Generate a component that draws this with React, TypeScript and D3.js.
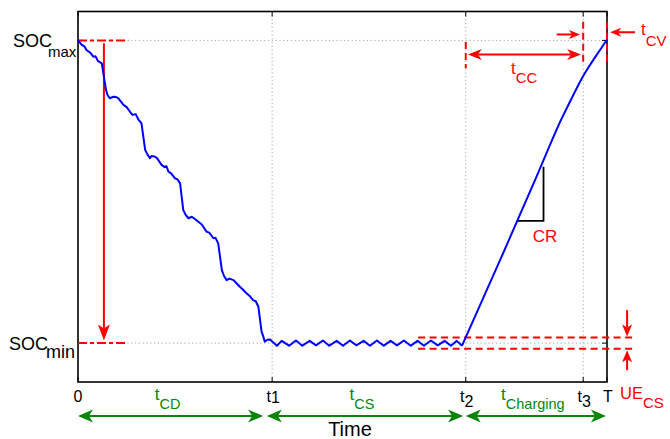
import React, { useEffect, useRef } from "react";
import * as d3 from "d3";

// time axis (0..T = 100) and SOC (%)
const tickTimes = [0, 36.7, 73.3, 95.5, 100];
const tickLabels = ["0", "t1", "t2", "t3", "T"];
const socLevels = [92.2, 10.5];
const socNames = ["max", "min"];

// blue SOC trace: charge depleting
const dischargeT = [0, 0.7, 1.2, 1.6, 2.3, 2.9, 3.3, 3.8, 4.5, 5.3, 5.6, 6.0, 6.7, 7.2, 7.6, 8.6, 9.2, 9.8, 10.3, 10.9, 11.4, 12.0, 12.7, 13.1, 13.6, 13.9, 14.4, 14.9, 15.8, 16.4, 16.7, 17.1, 17.6, 18.3, 18.8, 19.3, 19.9, 20.4, 20.9, 21.5, 22.1, 22.7, 23.4, 24.3, 24.8, 25.6, 26.0, 26.5, 27.2, 27.6, 28.1, 28.6, 29.4, 30.0, 30.6, 31.2, 31.9, 32.4, 33.1, 33.6, 34.1, 34.7, 35.0, 35.3, 35.8, 36.3];
const dischargeSoc = [92.3, 91.0, 90.6, 89.6, 88.9, 87.8, 87.9, 86.6, 86.0, 78.8, 77.4, 76.6, 77.0, 76.9, 76.6, 74.8, 74.2, 73.0, 72.1, 72.3, 70.9, 69.8, 62.6, 61.5, 60.4, 61.0, 60.9, 60.5, 58.6, 58.0, 58.3, 56.8, 56.3, 55.0, 54.7, 53.6, 46.4, 45.0, 44.2, 44.6, 44.0, 43.3, 42.5, 40.6, 40.3, 38.8, 38.9, 37.4, 30.2, 28.6, 27.5, 27.9, 27.5, 26.6, 25.7, 24.9, 23.9, 23.3, 22.1, 21.8, 20.3, 13.6, 12.4, 10.9, 11.4, 11.5];
// charge sustaining
const csT = [37.6, 38.5, 39.9, 41.2, 42.4, 43.8, 45.0, 46.3, 47.5, 48.9, 50.1, 51.4, 52.6, 54.0, 55.2, 56.5, 57.8, 59.1, 60.3, 61.6, 62.9, 64.2, 65.4, 66.7, 68.0, 69.3, 70.5, 71.6, 72.6];
const csSoc = [9.8, 11.1, 9.8, 11.2, 9.8, 11.1, 9.9, 11.2, 9.8, 11.1, 9.8, 11.2, 9.9, 11.1, 9.8, 11.2, 9.8, 11.1, 9.9, 11.2, 9.8, 11.1, 9.8, 11.2, 9.9, 11.1, 9.8, 11.1, 9.8];
// charging (constant current, then constant voltage)
const chargeT = [72.6, 80.1, 86.7, 91.4, 93.4, 95.5, 96.8, 98.05, 99.0, 99.94];
const chargeSoc = [9.8, 33.9, 55.5, 71.0, 76.8, 82.6, 85.6, 88.3, 90.3, 92.3];

// phases under the axis
const phaseNames = ["CD", "CS", "Charging"];
const phaseStart = [0, 35.7, 73.3];
const phaseEnd = [35.0, 72.8, 99.8];

// unbalanced-energy band
const ueBand = [12.0, 9.0];
// CR slope triangle
const crT = [83.1, 88.0, 88.0];
const crSoc = [43.5, 43.5, 58.1];

const RED = "#ff0000";
const GREEN = "#0a850a";
const BLUE = "#0000ff";
const FONT = "'Liberation Sans', Arial, sans-serif";

const width = 670;
const height = 439;
const margin = { top: 11.5, right: 63, bottom: 57, left: 78 };

function arrow(g, x1, y1, x2, y2, color, both = false, len = 15, half = 6, notch = 4) {
  const ang = Math.atan2(y2 - y1, x2 - x1);
  const deg = (ang * 180) / Math.PI;
  const cut = len - notch;
  const sx = both ? x1 + Math.cos(ang) * cut : x1;
  const sy = both ? y1 + Math.sin(ang) * cut : y1;
  g.append("line")
    .attr("x1", sx)
    .attr("y1", sy)
    .attr("x2", x2 - Math.cos(ang) * cut)
    .attr("y2", y2 - Math.sin(ang) * cut)
    .attr("stroke", color)
    .attr("stroke-width", 2);
  const head = `M0,0L${-len},${-half}L${-len + notch},0L${-len},${half}Z`;
  g.append("path")
    .attr("d", head)
    .attr("fill", color)
    .attr("transform", `translate(${x2},${y2}) rotate(${deg})`);
  if (both) {
    g.append("path")
      .attr("d", head)
      .attr("fill", color)
      .attr("transform", `translate(${x1},${y1}) rotate(${deg + 180})`);
  }
}

function subText(g, x, y, main, sub, color, size, subSize, dy, anchor = "start") {
  const t = g
    .append("text")
    .attr("x", x)
    .attr("y", y)
    .attr("fill", color)
    .attr("font-family", FONT)
    .attr("text-anchor", anchor);
  t.append("tspan").attr("font-size", size).text(main);
  t.append("tspan").attr("font-size", subSize).attr("dy", dy).text(sub);
  return t;
}

const App = () => {
  const ref = useRef(null);

  useEffect(() => {
    const svg = d3.select(ref.current);
    svg.selectAll("*").remove();

    const x = d3.scaleLinear().domain([0, 100]).range([margin.left, width - margin.right]);
    const y = d3.scaleLinear().domain([0, 100]).range([height - margin.bottom, margin.top]);
    const x0 = x(0), x1 = x(100), yb = y(0), yt = y(100);

    svg.append("rect").attr("width", width).attr("height", height).attr("fill", "#fff");

    // dotted grid
    const grid = svg.append("g").attr("stroke", "#a8a8a8").attr("stroke-width", 1).attr("stroke-dasharray", "1.2,2.6");
    tickTimes.slice(1, 4).forEach((t) => {
      grid.append("line").attr("x1", x(t)).attr("x2", x(t)).attr("y1", yt).attr("y2", yb);
    });
    socLevels.forEach((s) => {
      grid.append("line").attr("x1", x0).attr("x2", x1).attr("y1", y(s)).attr("y2", y(s));
    });

    // ticks
    const ticks = svg.append("g").attr("stroke", "#000").attr("stroke-width", 1);
    tickTimes.forEach((t) => {
      ticks.append("line").attr("x1", x(t)).attr("x2", x(t)).attr("y1", yb).attr("y2", yb - 5);
      ticks.append("line").attr("x1", x(t)).attr("x2", x(t)).attr("y1", yt).attr("y2", yt + 5);
    });
    socLevels.forEach((s) => {
      ticks.append("line").attr("x1", x0).attr("x2", x0 + 5).attr("y1", y(s)).attr("y2", y(s));
      ticks.append("line").attr("x1", x1).attr("x2", x1 - 5).attr("y1", y(s)).attr("y2", y(s));
    });

    // box
    svg.append("rect")
      .attr("x", x0).attr("y", yt)
      .attr("width", x1 - x0).attr("height", yb - yt)
      .attr("fill", "none").attr("stroke", "#000").attr("stroke-width", 1.6);

    // red reference lines
    const red = svg.append("g");
    red.append("line")
      .attr("x1", x0).attr("x2", x(9.5)).attr("y1", y(socLevels[0])).attr("y2", y(socLevels[0]))
      .attr("stroke", RED).attr("stroke-width", 2).attr("stroke-dasharray", "9,3,4,3");
    red.append("line")
      .attr("x1", x0).attr("x2", x(8.9)).attr("y1", y(socLevels[1])).attr("y2", y(socLevels[1]))
      .attr("stroke", RED).attr("stroke-width", 2).attr("stroke-dasharray", "9,3,4,3");
    arrow(red, x(4.9), y(91.4), x(4.9), y(11.2), RED, false, 16, 6, 4);

    ueBand.forEach((s) => {
      red.append("line")
        .attr("x1", x(64.3)).attr("x2", x(104.9)).attr("y1", y(s)).attr("y2", y(s))
        .attr("stroke", RED).attr("stroke-width", 2).attr("stroke-dasharray", "7,4.5");
    });
    arrow(red, x(103.8), y(19.4), x(103.8), y(12.3), RED, false, 12, 5, 3);
    arrow(red, x(103.8), y(3.2), x(103.8), y(8.6), RED, false, 12, 5, 3);

    // t_CC / t_CV markers
    [[73.3, 91.8, 84.7], [95.5, 97.2, 86.1], [100, 97.2, 86.1]].forEach(([t, a, b]) => {
      red.append("line")
        .attr("x1", x(t)).attr("x2", x(t)).attr("y1", y(a)).attr("y2", y(b))
        .attr("stroke", RED).attr("stroke-width", 2).attr("stroke-dasharray", "7,4");
    });
    arrow(red, x(73.7), y(88.4), x(95.1), y(88.4), RED, true, 14, 5.5, 4);
    arrow(red, x(90.5), y(93.8), x(94.9), y(93.8), RED, false, 11, 4.5, 3);
    arrow(red, x(105.3), y(94.4), x(100.6), y(94.4), RED, false, 11, 4.5, 3);

    // CR triangle
    svg.append("path")
      .attr("d", d3.line()(crT.map((t, i) => [x(t), y(crSoc[i])])))
      .attr("fill", "none").attr("stroke", "#000").attr("stroke-width", 1.8);

    // SOC trace
    const pts = [];
    dischargeT.forEach((t, i) => pts.push([t, dischargeSoc[i]]));
    csT.forEach((t, i) => pts.push([t, csSoc[i]]));
    const line = d3.line().x((d) => x(d[0])).y((d) => y(d[1]));
    svg.append("path")
      .datum(pts)
      .attr("d", line)
      .attr("fill", "none").attr("stroke", BLUE).attr("stroke-width", 2)
      .attr("stroke-linejoin", "round");

    const chargeLine = d3.line().x((d) => x(d[0])).y((d) => y(d[1])).curve(d3.curveMonotoneX);
    svg.append("path")
      .datum(chargeT.map((t, i) => [t, chargeSoc[i]]))
      .attr("d", chargeLine)
      .attr("fill", "none").attr("stroke", BLUE).attr("stroke-width", 2);

    // tick labels
    tickLabels.forEach((lab, i) => {
      const cx = x(tickTimes[i]);
      if (lab.length === 2) {
        const shift = i === 1 ? 1 : 5;
        subText(svg, cx + 1, 402, lab[0], lab[1], "#000", 16, 16, shift, "middle");
      } else {
        svg.append("text")
          .attr("x", cx + (lab === "T" ? 1 : 0)).attr("y", 402)
          .attr("text-anchor", "middle").attr("font-family", FONT).attr("font-size", 16)
          .text(lab);
      }
    });

    // SOC labels
    svg.append("text").attr("x", 13).attr("y", 47).attr("font-family", FONT).attr("font-size", 18).text("SOC");
    svg.append("text").attr("x", 48).attr("y", 57).attr("font-family", FONT).attr("font-size", 15).text(socNames[0]);
    svg.append("text").attr("x", 9).attr("y", 350).attr("font-family", FONT).attr("font-size", 18).text("SOC");
    svg.append("text").attr("x", 46).attr("y", 358).attr("font-family", FONT).attr("font-size", 18).text(socNames[1]);

    // phases
    phaseNames.forEach((p, i) => {
      const a = x(phaseStart[i]);
      const b = x(phaseEnd[i]);
      arrow(svg, a, 416, b, 416, GREEN, true, 15, 6.5, 4);
      subText(svg, (a + b) / 2 - 3, 400, "t", p, GREEN, 17, 14.5, 9, "middle");
    });

    svg.append("text")
      .attr("x", 350).attr("y", 436).attr("text-anchor", "middle")
      .attr("font-family", FONT).attr("font-size", 20).text("Time");

    // red labels
    subText(svg, 511, 74, "t", "CC", RED, 17, 15, 9);
    subText(svg, 641, 35, "t", "CV", RED, 17, 15, 11);
    svg.append("text")
      .attr("x", 545).attr("y", 242).attr("text-anchor", "middle")
      .attr("font-family", FONT).attr("font-size", 17).attr("fill", RED).text("CR");
    subText(svg, 620, 399, "UE", "CS", RED, 16.5, 15, 9);
  }, []);

  return (
    <svg
      ref={ref}
      width={width}
      height={height}
      style={{ position: "absolute", left: 0, top: 0 }}
    />
  );
};

export default App;
